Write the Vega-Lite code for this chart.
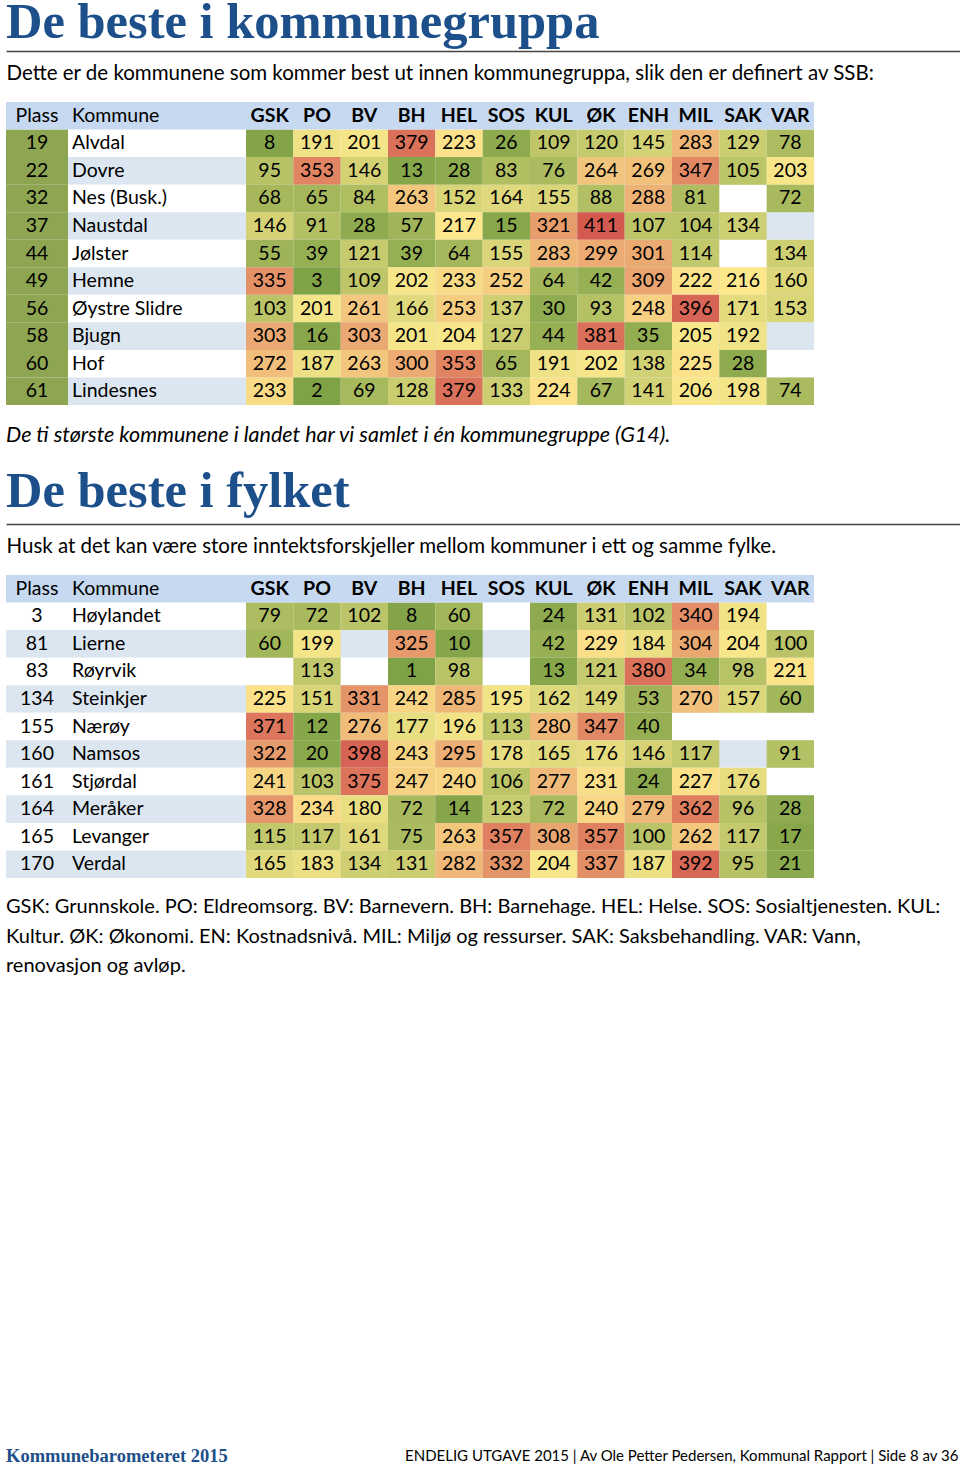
{
  "$schema": "https://vega.github.io/schema/vega-lite/v6.json",
  "background": "white",
  "padding": {"left": 6, "top": -3, "right": 0, "bottom": 0},
  "config": {"view": {"stroke": null}, "font": "Lato", "concat": {"spacing": 0}},
  "datasets": {
    "cols": [{"c": "GSK"}, {"c": "PO"}, {"c": "BV"}, {"c": "BH"}, {"c": "HEL"}, {"c": "SOS"}, {"c": "KUL"}, {"c": "ØK"}, {"c": "ENH"}, {"c": "MIL"}, {"c": "SAK"}, {"c": "VAR"}],
    "g1": [
      {"Plass": 19, "Kommune": "Alvdal", "GSK": 8, "PO": 191, "BV": 201, "BH": 379, "HEL": 223, "SOS": 26, "KUL": 109, "ØK": 120, "ENH": 145, "MIL": 283, "SAK": 129, "VAR": 78},
      {"Plass": 22, "Kommune": "Dovre", "GSK": 95, "PO": 353, "BV": 146, "BH": 13, "HEL": 28, "SOS": 83, "KUL": 76, "ØK": 264, "ENH": 269, "MIL": 347, "SAK": 105, "VAR": 203},
      {"Plass": 32, "Kommune": "Nes (Busk.)", "GSK": 68, "PO": 65, "BV": 84, "BH": 263, "HEL": 152, "SOS": 164, "KUL": 155, "ØK": 88, "ENH": 288, "MIL": 81, "SAK": null, "VAR": 72},
      {"Plass": 37, "Kommune": "Naustdal", "GSK": 146, "PO": 91, "BV": 28, "BH": 57, "HEL": 217, "SOS": 15, "KUL": 321, "ØK": 411, "ENH": 107, "MIL": 104, "SAK": 134, "VAR": null},
      {"Plass": 44, "Kommune": "Jølster", "GSK": 55, "PO": 39, "BV": 121, "BH": 39, "HEL": 64, "SOS": 155, "KUL": 283, "ØK": 299, "ENH": 301, "MIL": 114, "SAK": null, "VAR": 134},
      {"Plass": 49, "Kommune": "Hemne", "GSK": 335, "PO": 3, "BV": 109, "BH": 202, "HEL": 233, "SOS": 252, "KUL": 64, "ØK": 42, "ENH": 309, "MIL": 222, "SAK": 216, "VAR": 160},
      {"Plass": 56, "Kommune": "Øystre Slidre", "GSK": 103, "PO": 201, "BV": 261, "BH": 166, "HEL": 253, "SOS": 137, "KUL": 30, "ØK": 93, "ENH": 248, "MIL": 396, "SAK": 171, "VAR": 153},
      {"Plass": 58, "Kommune": "Bjugn", "GSK": 303, "PO": 16, "BV": 303, "BH": 201, "HEL": 204, "SOS": 127, "KUL": 44, "ØK": 381, "ENH": 35, "MIL": 205, "SAK": 192, "VAR": null},
      {"Plass": 60, "Kommune": "Hof", "GSK": 272, "PO": 187, "BV": 263, "BH": 300, "HEL": 353, "SOS": 65, "KUL": 191, "ØK": 202, "ENH": 138, "MIL": 225, "SAK": 28, "VAR": null},
      {"Plass": 61, "Kommune": "Lindesnes", "GSK": 233, "PO": 2, "BV": 69, "BH": 128, "HEL": 379, "SOS": 133, "KUL": 224, "ØK": 67, "ENH": 141, "MIL": 206, "SAK": 198, "VAR": 74}
    ],
    "g2": [
      {"Plass": 3, "Kommune": "Høylandet", "GSK": 79, "PO": 72, "BV": 102, "BH": 8, "HEL": 60, "SOS": null, "KUL": 24, "ØK": 131, "ENH": 102, "MIL": 340, "SAK": 194, "VAR": null},
      {"Plass": 81, "Kommune": "Lierne", "GSK": 60, "PO": 199, "BV": null, "BH": 325, "HEL": 10, "SOS": null, "KUL": 42, "ØK": 229, "ENH": 184, "MIL": 304, "SAK": 204, "VAR": 100},
      {"Plass": 83, "Kommune": "Røyrvik", "GSK": null, "PO": 113, "BV": null, "BH": 1, "HEL": 98, "SOS": null, "KUL": 13, "ØK": 121, "ENH": 380, "MIL": 34, "SAK": 98, "VAR": 221},
      {"Plass": 134, "Kommune": "Steinkjer", "GSK": 225, "PO": 151, "BV": 331, "BH": 242, "HEL": 285, "SOS": 195, "KUL": 162, "ØK": 149, "ENH": 53, "MIL": 270, "SAK": 157, "VAR": 60},
      {"Plass": 155, "Kommune": "Nærøy", "GSK": 371, "PO": 12, "BV": 276, "BH": 177, "HEL": 196, "SOS": 113, "KUL": 280, "ØK": 347, "ENH": 40, "MIL": null, "SAK": null, "VAR": null},
      {"Plass": 160, "Kommune": "Namsos", "GSK": 322, "PO": 20, "BV": 398, "BH": 243, "HEL": 295, "SOS": 178, "KUL": 165, "ØK": 176, "ENH": 146, "MIL": 117, "SAK": null, "VAR": 91},
      {"Plass": 161, "Kommune": "Stjørdal", "GSK": 241, "PO": 103, "BV": 375, "BH": 247, "HEL": 240, "SOS": 106, "KUL": 277, "ØK": 231, "ENH": 24, "MIL": 227, "SAK": 176, "VAR": null},
      {"Plass": 164, "Kommune": "Meråker", "GSK": 328, "PO": 234, "BV": 180, "BH": 72, "HEL": 14, "SOS": 123, "KUL": 72, "ØK": 240, "ENH": 279, "MIL": 362, "SAK": 96, "VAR": 28},
      {"Plass": 165, "Kommune": "Levanger", "GSK": 115, "PO": 117, "BV": 161, "BH": 75, "HEL": 263, "SOS": 357, "KUL": 308, "ØK": 357, "ENH": 100, "MIL": 262, "SAK": 117, "VAR": 17},
      {"Plass": 170, "Kommune": "Verdal", "GSK": 165, "PO": 183, "BV": 134, "BH": 131, "HEL": 282, "SOS": 332, "KUL": 204, "ØK": 337, "ENH": 187, "MIL": 392, "SAK": 95, "VAR": 21}
    ]
  },
  "spacing": 19,
  "vconcat": [
    {
      "spacing": 18,
      "vconcat": [
        {
          "width": 955, "height": 0,
          "title": {"text": "De beste i kommunegruppa", "anchor": "start", "font": "Liberation Serif", "fontSize": 50.5, "fontWeight": "bold", "color": "#1d4f8b", "offset": -17},
          "data": {"values": []},
          "mark": "rect",
          "encoding": {"x": {"field": "v", "type": "quantitative", "scale": {"domain": [0, 1]},
            "axis": {"orient": "bottom", "domain": true, "domainColor": "#444", "domainWidth": 1.5, "ticks": false, "labels": false, "grid": false,
              "title": "Dette er de kommunene som kommer best ut innen kommunegruppa, slik den er definert av SSB:", "titleAnchor": "start", "titleFont": "Lato", "titleFontSize": 20.5, "titleFontWeight": "normal", "titleColor": "#000", "titlePadding": 12}}}
        },
        {
          "spacing": 0,
          "title": {"text": "De ti største kommunene i landet har vi samlet i én kommunegruppe (G14).", "orient": "bottom", "anchor": "start", "font": "Lato", "fontSize": 21.5, "fontStyle": "italic", "fontWeight": "normal", "color": "#000", "offset": 20},
          "hconcat": [
            {
              "width": 62, "height": 303,
              "layer": [
                {"data": {"name": "g1"}, "transform": [{"window": [{"op": "row_number", "as": "i"}]}], "mark": "rect",
                 "encoding": {"y": {"field": "i", "type": "ordinal", "scale": {"domain": [0,1,2,3,4,5,6,7,8,9,10], "paddingInner": 0, "paddingOuter": 0}, "axis": null}, "color": {"value": "#8ea552"}}},
                {"data": {"name": "g1"}, "transform": [{"window": [{"op": "row_number", "as": "i"}]}], "mark": {"type": "text", "fontSize": 19.5, "color": "#000"},
                 "encoding": {"y": {"field": "i", "type": "ordinal"}, "text": {"field": "Plass"}}},
                {"data": {"values": [{"h": "Plass"}]}, "mark": "rect", "encoding": {"y": {"datum": 0, "type": "ordinal"}, "color": {"value": "#c6d9f0"}}},
                {"data": {"values": [{"h": "Plass"}]}, "mark": {"type": "text", "fontSize": 19.5, "color": "#000"}, "encoding": {"y": {"datum": 0, "type": "ordinal"}, "text": {"field": "h"}}}
              ]
            },
            {
              "width": 178, "height": 303,
              "layer": [
                {"data": {"name": "g1"}, "transform": [{"window": [{"op": "row_number", "as": "i"}]}], "mark": "rect",
                 "encoding": {"y": {"field": "i", "type": "ordinal", "scale": {"domain": [0,1,2,3,4,5,6,7,8,9,10], "paddingInner": 0, "paddingOuter": 0}, "axis": null},
                   "color": {"condition": {"test": "datum.i % 2 == 0", "value": "#dce6f1"}, "value": "#ffffff"}}},
                {"data": {"name": "g1"}, "transform": [{"window": [{"op": "row_number", "as": "i"}]}], "mark": {"type": "text", "align": "left", "dx": 4, "fontSize": 19.5, "color": "#000"},
                 "encoding": {"x": {"datum": 0, "type": "quantitative", "scale": {"domain": [0, 1]}, "axis": null}, "y": {"field": "i", "type": "ordinal"}, "text": {"field": "Kommune"}}},
                {"data": {"values": [{"h": "Kommune"}]}, "mark": "rect", "encoding": {"y": {"datum": 0, "type": "ordinal"}, "color": {"value": "#c6d9f0"}}},
                {"data": {"values": [{"h": "Kommune"}]}, "mark": {"type": "text", "align": "left", "dx": 4, "fontSize": 19.5, "color": "#000"},
                 "encoding": {"x": {"datum": 0, "type": "quantitative"}, "y": {"datum": 0, "type": "ordinal"}, "text": {"field": "h"}}}
              ]
            },
            {
              "width": 568, "height": 303,
              "layer": [
                {"data": {"name": "g1"}, "transform": [{"window": [{"op": "row_number", "as": "i"}]}], "mark": "rect",
                 "encoding": {"y": {"field": "i", "type": "ordinal", "scale": {"domain": [0,1,2,3,4,5,6,7,8,9,10], "paddingInner": 0, "paddingOuter": 0}, "axis": null},
                   "color": {"condition": {"test": "datum.i % 2 == 0", "value": "#dce6f1"}, "value": "#ffffff"}}},
                {"data": {"name": "g1"}, "transform": [{"window": [{"op": "row_number", "as": "i"}]}, {"fold": ["GSK","PO","BV","BH","HEL","SOS","KUL","ØK","ENH","MIL","SAK","VAR"], "as": ["k", "v"]}, {"filter": "isValid(datum.v)"}],
                 "layer": [
                   {"mark": "rect", "encoding": {
                     "x": {"field": "k", "type": "nominal", "scale": {"domain": ["GSK","PO","BV","BH","HEL","SOS","KUL","ØK","ENH","MIL","SAK","VAR"], "paddingInner": 0, "paddingOuter": 0}, "axis": null},
                     "y": {"field": "i", "type": "ordinal"},
                     "color": {"field": "v", "type": "quantitative", "scale": {"domain": [1, 214, 428], "range": ["#7fa246", "#fde98d", "#d04e4b"], "interpolate": "rgb"}, "legend": null}}},
                   {"mark": {"type": "text", "fontSize": 19.5, "color": "#000"}, "encoding": {
                     "x": {"field": "k", "type": "nominal"}, "y": {"field": "i", "type": "ordinal"}, "text": {"field": "v"}}}
                 ]},
                {"data": {"values": [{"h": "x"}]}, "mark": "rect", "encoding": {"y": {"datum": 0, "type": "ordinal"}, "color": {"value": "#c6d9f0"}}},
                {"data": {"name": "cols"}, "mark": {"type": "text", "fontSize": 19.5, "fontWeight": "bold", "color": "#000"},
                 "encoding": {"x": {"field": "c", "type": "nominal"}, "y": {"datum": 0, "type": "ordinal"}, "text": {"field": "c"}}}
              ]
            }
          ]
        }
      ]
    },
    {
      "spacing": 18,
      "vconcat": [
        {
          "width": 955, "height": 0,
          "title": {"text": "De beste i fylket", "anchor": "start", "font": "Liberation Serif", "fontSize": 50.5, "fontWeight": "bold", "color": "#1d4f8b", "offset": -13},
          "data": {"values": []},
          "mark": "rect",
          "encoding": {"x": {"field": "v", "type": "quantitative", "scale": {"domain": [0, 1]},
            "axis": {"orient": "bottom", "domain": true, "domainColor": "#444", "domainWidth": 1.5, "ticks": false, "labels": false, "grid": false,
              "title": "Husk at det kan være store inntektsforskjeller mellom kommuner i ett og samme fylke.", "titleAnchor": "start", "titleFont": "Lato", "titleFontSize": 20.5, "titleFontWeight": "normal", "titleColor": "#000", "titlePadding": 12}}}
        },
        {
          "spacing": 0,
          "title": {"text": ["GSK: Grunnskole. PO: Eldreomsorg. BV: Barnevern. BH: Barnehage. HEL: Helse. SOS: Sosialtjenesten. KUL:", "Kultur. ØK: Økonomi. EN: Kostnadsnivå. MIL: Miljø og ressurser. SAK: Saksbehandling. VAR: Vann,", "renovasjon og avløp."], "orient": "bottom", "anchor": "start", "font": "Lato", "fontSize": 20, "fontWeight": "normal", "color": "#000", "lineHeight": 29.5, "offset": 19},
          "hconcat": [
            {
              "width": 62, "height": 303,
              "layer": [
                {"data": {"name": "g2"}, "transform": [{"window": [{"op": "row_number", "as": "i"}]}], "mark": "rect",
                 "encoding": {"y": {"field": "i", "type": "ordinal", "scale": {"domain": [0,1,2,3,4,5,6,7,8,9,10], "paddingInner": 0, "paddingOuter": 0}, "axis": null},
                   "color": {"condition": {"test": "datum.i % 2 == 0", "value": "#dce6f1"}, "value": "#ffffff"}}},
                {"data": {"name": "g2"}, "transform": [{"window": [{"op": "row_number", "as": "i"}]}], "mark": {"type": "text", "fontSize": 19.5, "color": "#000"},
                 "encoding": {"y": {"field": "i", "type": "ordinal"}, "text": {"field": "Plass"}}},
                {"data": {"values": [{"h": "Plass"}]}, "mark": "rect", "encoding": {"y": {"datum": 0, "type": "ordinal"}, "color": {"value": "#c6d9f0"}}},
                {"data": {"values": [{"h": "Plass"}]}, "mark": {"type": "text", "fontSize": 19.5, "color": "#000"}, "encoding": {"y": {"datum": 0, "type": "ordinal"}, "text": {"field": "h"}}}
              ]
            },
            {
              "width": 178, "height": 303,
              "layer": [
                {"data": {"name": "g2"}, "transform": [{"window": [{"op": "row_number", "as": "i"}]}], "mark": "rect",
                 "encoding": {"y": {"field": "i", "type": "ordinal", "scale": {"domain": [0,1,2,3,4,5,6,7,8,9,10], "paddingInner": 0, "paddingOuter": 0}, "axis": null},
                   "color": {"condition": {"test": "datum.i % 2 == 0", "value": "#dce6f1"}, "value": "#ffffff"}}},
                {"data": {"name": "g2"}, "transform": [{"window": [{"op": "row_number", "as": "i"}]}], "mark": {"type": "text", "align": "left", "dx": 4, "fontSize": 19.5, "color": "#000"},
                 "encoding": {"x": {"datum": 0, "type": "quantitative", "scale": {"domain": [0, 1]}, "axis": null}, "y": {"field": "i", "type": "ordinal"}, "text": {"field": "Kommune"}}},
                {"data": {"values": [{"h": "Kommune"}]}, "mark": "rect", "encoding": {"y": {"datum": 0, "type": "ordinal"}, "color": {"value": "#c6d9f0"}}},
                {"data": {"values": [{"h": "Kommune"}]}, "mark": {"type": "text", "align": "left", "dx": 4, "fontSize": 19.5, "color": "#000"},
                 "encoding": {"x": {"datum": 0, "type": "quantitative"}, "y": {"datum": 0, "type": "ordinal"}, "text": {"field": "h"}}}
              ]
            },
            {
              "width": 568, "height": 303,
              "layer": [
                {"data": {"name": "g2"}, "transform": [{"window": [{"op": "row_number", "as": "i"}]}], "mark": "rect",
                 "encoding": {"y": {"field": "i", "type": "ordinal", "scale": {"domain": [0,1,2,3,4,5,6,7,8,9,10], "paddingInner": 0, "paddingOuter": 0}, "axis": null},
                   "color": {"condition": {"test": "datum.i % 2 == 0", "value": "#dce6f1"}, "value": "#ffffff"}}},
                {"data": {"name": "g2"}, "transform": [{"window": [{"op": "row_number", "as": "i"}]}, {"fold": ["GSK","PO","BV","BH","HEL","SOS","KUL","ØK","ENH","MIL","SAK","VAR"], "as": ["k", "v"]}, {"filter": "isValid(datum.v)"}],
                 "layer": [
                   {"mark": "rect", "encoding": {
                     "x": {"field": "k", "type": "nominal", "scale": {"domain": ["GSK","PO","BV","BH","HEL","SOS","KUL","ØK","ENH","MIL","SAK","VAR"], "paddingInner": 0, "paddingOuter": 0}, "axis": null},
                     "y": {"field": "i", "type": "ordinal"},
                     "color": {"field": "v", "type": "quantitative", "scale": {"domain": [1, 214, 428], "range": ["#7fa246", "#fde98d", "#d04e4b"], "interpolate": "rgb"}, "legend": null}}},
                   {"mark": {"type": "text", "fontSize": 19.5, "color": "#000"}, "encoding": {
                     "x": {"field": "k", "type": "nominal"}, "y": {"field": "i", "type": "ordinal"}, "text": {"field": "v"}}}
                 ]},
                {"data": {"values": [{"h": "x"}]}, "mark": "rect", "encoding": {"y": {"datum": 0, "type": "ordinal"}, "color": {"value": "#c6d9f0"}}},
                {"data": {"name": "cols"}, "mark": {"type": "text", "fontSize": 19.5, "fontWeight": "bold", "color": "#000"},
                 "encoding": {"x": {"field": "c", "type": "nominal"}, "y": {"datum": 0, "type": "ordinal"}, "text": {"field": "c"}}}
              ]
            }
          ]
        }
      ]
    },
    {
      "width": 952, "height": 452,
      "title": {"text": "Kommunebarometeret 2015", "orient": "bottom", "anchor": "start", "font": "Liberation Serif", "fontSize": 18.5, "fontWeight": "bold", "color": "#1d4f8b", "offset": -16},
      "data": {"values": []},
      "mark": "rect",
      "encoding": {"x": {"field": "v", "type": "quantitative", "scale": {"domain": [0, 1]},
        "axis": {"orient": "bottom", "domain": false, "ticks": false, "labels": false, "grid": false,
          "title": "ENDELIG UTGAVE 2015 | Av Ole Petter Pedersen, Kommunal Rapport | Side 8 av 36", "titleAnchor": "end", "titleFont": "Lato", "titleFontSize": 15, "titleFontWeight": "normal", "titleColor": "#000", "titlePadding": 0}}}
    }
  ]
}
